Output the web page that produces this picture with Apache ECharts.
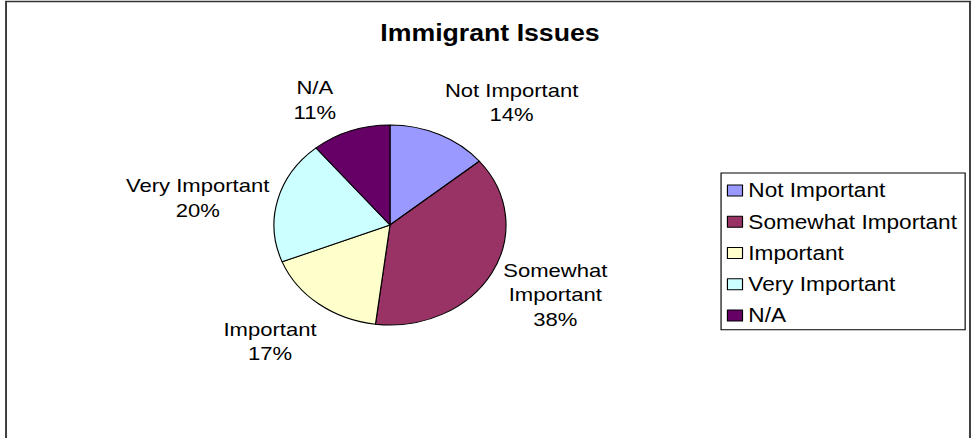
<!DOCTYPE html>
<html>
<head>
<meta charset="utf-8">
<script src="https://cdn.jsdelivr.net/npm/echarts@6/dist/echarts.min.js"></script>
<style>
  html, body { margin: 0; padding: 0; background: #fff; overflow: hidden; }
  #wrap { width: 973px; height: 438px; overflow: hidden; }
  /* the chart is laid out narrower and stretched horizontally */
  #chart { width: 839px; height: 438px; transform: scaleX(1.16); transform-origin: 0 0; }
</style>
</head>
<body>
<div id="wrap"><div id="chart"></div></div>
<script>
// Survey answers
const categories = ['Not Important', 'Somewhat Important', 'Important', 'Very Important', 'N/A'];
const shares = [14, 38, 17, 20, 11];
const sliceColors = ['#9999FF', '#993366', '#FFFFCC', '#CCFFFF', '#660066'];
// small per-label nudges around the default outside spot
const labelNudge = [[41, 13], [11, -3], [-11.5, -2.5], [-20.5, 10], [-14, 15.5]];

const pieCenter = [336.2, 225];
const pieRadius = 100;
const labelDistance = 150;
const font = 'Liberation Sans, Arial, sans-serif';

const total = shares.reduce((a, b) => a + b, 0);
function midAngle(i) {
  let before = 0;
  for (let k = 0; k < i; k++) before += shares[k];
  return (before + shares[i] / 2) / total * Math.PI * 2;
}

const chart = echarts.init(document.getElementById('chart'), null, { renderer: 'svg' });

chart.setOption({
  animation: false,
  backgroundColor: '#fff',
  title: {
    text: 'Immigrant Issues',
    left: 422.4,
    textAlign: 'center',
    top: 21,
    padding: 0,
    textStyle: { fontFamily: font, fontSize: 23, fontWeight: 'bold', color: '#000', lineHeight: 23 }
  },
  legend: {
    orient: 'vertical',
    left: 621.6,
    top: 173,
    padding: [7.5, 7, 4.25, 5],
    borderColor: '#000',
    borderWidth: 1,
    itemWidth: 13,
    itemHeight: 11,
    itemGap: 11.25,
    icon: 'rect',
    selectedMode: false,
    data: categories.map((c, i) => ({
      name: c,
      itemStyle: { color: sliceColors[i], borderColor: '#000', borderWidth: 1 }
    })),
    textStyle: { fontFamily: font, fontSize: 19.5, lineHeight: 19.5, color: '#000' }
  },
  graphic: [{
    type: 'rect',
    shape: { x: 5.2, y: 1.5, width: 831, height: 460 },
    style: { fill: 'none', stroke: '#333', lineWidth: 1.6 },
    silent: true
  }],
  series: [{
    type: 'pie',
    center: pieCenter,
    radius: pieRadius,
    startAngle: 90,
    clockwise: true,
    percentPrecision: 0,
    emphasis: { disabled: true },
    itemStyle: { borderColor: '#000', borderWidth: 1 },
    label: {
      show: true,
      position: 'outside',
      fontFamily: font,
      fontSize: 19,
      lineHeight: 24.5,
      color: '#000',
      formatter: p => (p.name.length > 16 ? p.name.replace(' ', '\n') : p.name) + '\n' + p.percent + '%'
    },
    labelLine: { show: false },
    labelLayout: function (params) {
      const i = params.dataIndex;
      const a = midAngle(i);
      return {
        x: pieCenter[0] + labelDistance * Math.sin(a) + labelNudge[i][0],
        y: pieCenter[1] - labelDistance * Math.cos(a) + labelNudge[i][1],
        align: 'center',
        verticalAlign: 'middle'
      };
    },
    data: categories.map((c, i) => ({ name: c, value: shares[i], itemStyle: { color: sliceColors[i] } }))
  }]
});
</script>
</body>
</html>
